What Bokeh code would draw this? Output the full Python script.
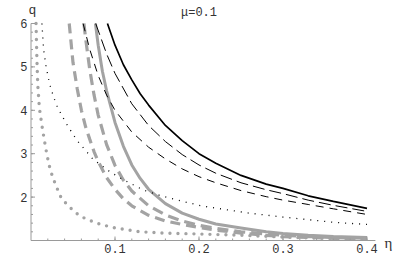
from bokeh.plotting import figure
from bokeh.models import Range1d
from bokeh.core.properties import value
from bokeh.embed import file_html
from bokeh.resources import INLINE

# ---- data (curves cut at q = 6) ----
eta_s = [0.091, 0.1, 0.11, 0.12, 0.13, 0.14, 0.16, 0.18, 0.2, 0.22, 0.25, 0.28, 0.3, 0.33, 0.36, 0.4]
q_s = [6.0, 5.5, 5.05, 4.7, 4.38, 4.12, 3.65, 3.3, 3.0, 2.78, 2.5, 2.3, 2.2, 2.03, 1.9, 1.74]

eta_d1 = [0.077, 0.09, 0.1, 0.12, 0.14, 0.16, 0.18, 0.2, 0.22, 0.25, 0.28, 0.3, 0.33, 0.36, 0.4]
q_d1 = [6.0, 5.3, 4.85, 4.15, 3.65, 3.28, 2.98, 2.74, 2.55, 2.33, 2.17, 2.08, 1.93, 1.81, 1.67]

eta_d2 = [0.062, 0.07, 0.08, 0.09, 0.1, 0.12, 0.14, 0.16, 0.18, 0.2, 0.22, 0.25, 0.28, 0.3, 0.33, 0.36, 0.4]
q_d2 = [6.0, 5.4, 4.8, 4.35, 4.0, 3.5, 3.15, 2.88, 2.65, 2.47, 2.33, 2.15, 2.01, 1.93, 1.83, 1.73, 1.60]

eta_b3 = [0.013, 0.015, 0.018, 0.022, 0.027, 0.031, 0.037, 0.044, 0.055, 0.074, 0.095, 0.11,
          0.134, 0.155, 0.175, 0.2, 0.215, 0.26, 0.3, 0.32, 0.36, 0.4]
q_b3 = [6.0, 5.4, 5.0, 4.62, 4.3, 4.1, 3.87, 3.63, 3.3, 2.87, 2.57, 2.4,
        2.16, 2.03, 1.93, 1.81, 1.76, 1.63, 1.54, 1.5, 1.42, 1.37]

eta_g4 = [0.006, 0.007, 0.008, 0.01, 0.013, 0.016, 0.019, 0.023, 0.029, 0.035, 0.043, 0.056,
          0.065, 0.083, 0.1, 0.13, 0.16, 0.2, 0.25, 0.3, 0.35, 0.4]
q_g4 = [6.0, 5.2, 4.6, 4.05, 3.65, 3.3, 2.97, 2.62, 2.3, 2.02, 1.82, 1.6,
        1.5, 1.37, 1.29, 1.2, 1.17, 1.15, 1.12, 1.08, 1.05, 1.04]

eta_g5 = [0.0455, 0.05, 0.055, 0.06, 0.065, 0.07, 0.075, 0.08, 0.09, 0.1, 0.11, 0.12, 0.14,
          0.16, 0.18, 0.2, 0.22, 0.25, 0.28, 0.3, 0.33, 0.36, 0.4]
q_g5 = [6.0, 5.1, 4.5, 4.0, 3.62, 3.33, 3.05, 2.82, 2.45, 2.18, 1.96, 1.8, 1.58,
        1.45, 1.37, 1.3, 1.24, 1.17, 1.12, 1.09, 1.07, 1.05, 1.04]

eta_g6 = [0.063, 0.065, 0.07, 0.075, 0.08, 0.09, 0.1, 0.11, 0.12, 0.14, 0.16, 0.18, 0.2,
          0.22, 0.25, 0.28, 0.3, 0.33, 0.36, 0.4]
q_g6 = [6.0, 5.66, 4.93, 4.36, 3.89, 3.21, 2.73, 2.39, 2.14, 1.80, 1.59, 1.45, 1.35,
        1.28, 1.2, 1.15, 1.12, 1.09, 1.07, 1.05]

eta_g7 = [0.0767, 0.08, 0.085, 0.09, 0.1, 0.11, 0.12, 0.13, 0.14, 0.16, 0.18, 0.2, 0.22,
          0.25, 0.28, 0.3, 0.33, 0.36, 0.4]
q_g7 = [6.0, 5.5, 4.9, 4.45, 3.72, 3.17, 2.74, 2.43, 2.18, 1.85, 1.63, 1.49, 1.38,
        1.29, 1.2, 1.16, 1.12, 1.09, 1.07]

x_ticks = [0.1, 0.2, 0.3, 0.4]
x_minor = [round(0.02 * i, 2) for i in range(1, 21)]
y_ticks = [2, 3, 4, 5, 6]
y_minor = [round(1 + 0.2 * i, 1) for i in range(1, 26)]
x_axis_end = 0.41
title_text = "\u03bc=0.1"

GRAY = "#a3a3a3"
AX = "#9a9a9a"
TXT = "#333333"
MONO = "Liberation Mono"

W, H = 410, 256
PXX = 840.0   # pixels per unit eta
PXY = 43.4    # pixels per unit q
x0 = -30.5 / PXX
y0 = 1 - 16 / PXY
p = figure(width=W, height=H, output_backend="svg", toolbar_location=None,
           x_range=Range1d(x0, x0 + W / PXX), y_range=Range1d(y0, y0 + H / PXY),
           min_border=0)
p.outline_line_color = None
p.grid.visible = False
p.axis.visible = False

# gray curves
p.line(eta_g4, q_g4, line_color=GRAY, line_width=3.4, line_dash="0 8", line_cap="round")
p.line(eta_g5, q_g5, line_color=GRAY, line_width=3.2, line_dash="10 6")
p.line(eta_g6, q_g6, line_color=GRAY, line_width=3.2, line_dash="11 6")
p.line(eta_g7, q_g7, line_color=GRAY, line_width=3.0)
# black curves
p.line(eta_b3, q_b3, line_color="black", line_width=1.3, line_dash="1 6")
p.line(eta_d2, q_d2, line_color="black", line_width=1.0, line_dash="8 6")
p.line(eta_d1, q_d1, line_color="black", line_width=1.0, line_dash="12 5")
p.line(eta_s, q_s, line_color="black", line_width=1.7)

# Mathematica-style axes crossing at (0, 1)
p.segment(x0=[0, 0], y0=[1, 1], x1=[0, x_axis_end], y1=[max(y_ticks), 1],
          line_color=AX, line_width=1)
p.segment(x0=[0] * len(y_ticks), y0=y_ticks, x1=[4 / PXX] * len(y_ticks), y1=y_ticks,
          line_color=AX, line_width=1)
p.segment(x0=[0] * len(y_minor), y0=y_minor, x1=[2 / PXX] * len(y_minor), y1=y_minor,
          line_color=AX, line_width=1)
p.segment(x0=x_ticks, y0=[1] * len(x_ticks), x1=x_ticks, y1=[1 + 4 / PXY] * len(x_ticks),
          line_color=AX, line_width=1)
p.segment(x0=x_minor, y0=[1] * len(x_minor), x1=x_minor, y1=[1 + 2 / PXY] * len(x_minor),
          line_color=AX, line_width=1)

p.text(x=[-3.5 / PXX] * len(y_ticks), y=y_ticks, text=[f"{t:g}" for t in y_ticks],
       text_font=value(MONO), text_font_size="12px", text_color=TXT,
       text_align="right", text_baseline="middle")
p.text(x=x_ticks, y=[1 - 7.5 / PXY] * len(x_ticks), text=[f"{t:g}" for t in x_ticks],
       text_font=value(MONO), text_font_size="12px", text_color=TXT,
       text_align="center", text_baseline="middle")

p.text(x=[0.2], y=[1 + 228 / PXY], text=[title_text], text_font=value(MONO),
       text_font_size="12px", text_color=TXT, text_align="center", text_baseline="middle")
p.text(x=[1.5 / PXX], y=[1 + 230 / PXY], text=["q"], text_font=value(MONO),
       text_font_size="13px", text_color=TXT, text_align="center", text_baseline="middle")
p.text(x=[357.5 / PXX], y=[1 - 2.5 / PXY], text=["\u03b7"], text_font=value("Liberation Serif"),
       text_font_size="15px", text_color=TXT, text_align="center", text_baseline="middle")

open("out.html", "w").write(file_html(p, INLINE))
